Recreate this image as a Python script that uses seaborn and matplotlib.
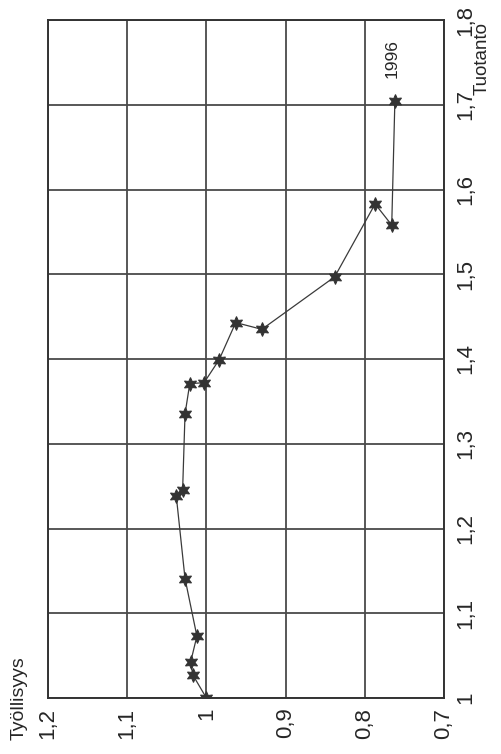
import matplotlib
matplotlib.use("Agg")
import matplotlib.pyplot as plt
import seaborn as sns
import pandas as pd

tuotanto = [1.000, 1.027, 1.042, 1.073, 1.141, 1.238, 1.246, 1.335, 1.371,
            1.372, 1.399, 1.443, 1.435, 1.497, 1.583, 1.558, 1.705]
tyollisyys = [1.000, 1.017, 1.020, 1.012, 1.027, 1.038, 1.030, 1.027, 1.021,
              1.003, 0.984, 0.963, 0.930, 0.838, 0.787, 0.766, 0.762]
tyo_ticks = [1.2, 1.1, 1.0, 0.9, 0.8, 0.7]
tyo_labels = ["1,2", "1,1", "1", "0,9", "0,8", "0,7"]
tuo_ticks = [1.0, 1.1, 1.2, 1.3, 1.4, 1.5, 1.6, 1.7, 1.8]
tuo_labels = ["1", "1,1", "1,2", "1,3", "1,4", "1,5", "1,6", "1,7", "1,8"]
last_year = "1996"

df = pd.DataFrame({"tyollisyys": tyollisyys, "tuotanto": tuotanto})

sns.set_style("white")
plt.rcParams['font.family'] = ['Liberation Sans', 'DejaVu Sans']

fig = plt.figure(figsize=(5.02, 7.54), dpi=100)
ax = fig.add_axes([48 / 502, 56 / 754, 396 / 502, 678 / 754])

# chart is printed turned on its side: employment runs left->right (decreasing),
# output runs bottom->top
sns.lineplot(data=df, x="tyollisyys", y="tuotanto", sort=False, estimator=None,
             ax=ax, color="#3a3a3a", linewidth=0.9,
             marker=(6, 1, 0), markersize=10, markeredgecolor="#333333",
             markerfacecolor="#333333")

ax.set_xlim(1.2, 0.7)
ax.set_ylim(1.0, 1.8)
ax.set_xticks(tyo_ticks)
ax.set_xticklabels(tyo_labels, rotation=90, fontsize=16)
ax.set_yticks(tuo_ticks)
ax.set_yticklabels(tuo_labels, rotation=90, fontsize=16, va="center")
ax.yaxis.tick_right()
ax.tick_params(axis="x", length=0, pad=7)
ax.tick_params(axis="y", length=0, pad=8)

ax.grid(True, color="#4a4a4a", linewidth=1.3)
ax.set_axisbelow(True)
for sp in ax.spines.values():
    sp.set_visible(True)
    sp.set_color("#333333")
    sp.set_linewidth(1.4)

ax.set_xlabel("")
ax.set_ylabel("")
fig.text(19 / 502, 1 - 740 / 754, "Työllisyys", rotation=90, fontsize=14,
         ha="center", va="bottom")
fig.text(482 / 502, 1 - 22 / 754, "Tuotanto", rotation=90, fontsize=13.5,
         ha="center", va="top")

ax.annotate(last_year, (tyollisyys[-1], tuotanto[-1]), xytext=(-2, 16),
            textcoords="offset points", rotation=90, fontsize=12.5,
            ha="center", va="bottom")

fig.savefig("out.png", dpi=100)
